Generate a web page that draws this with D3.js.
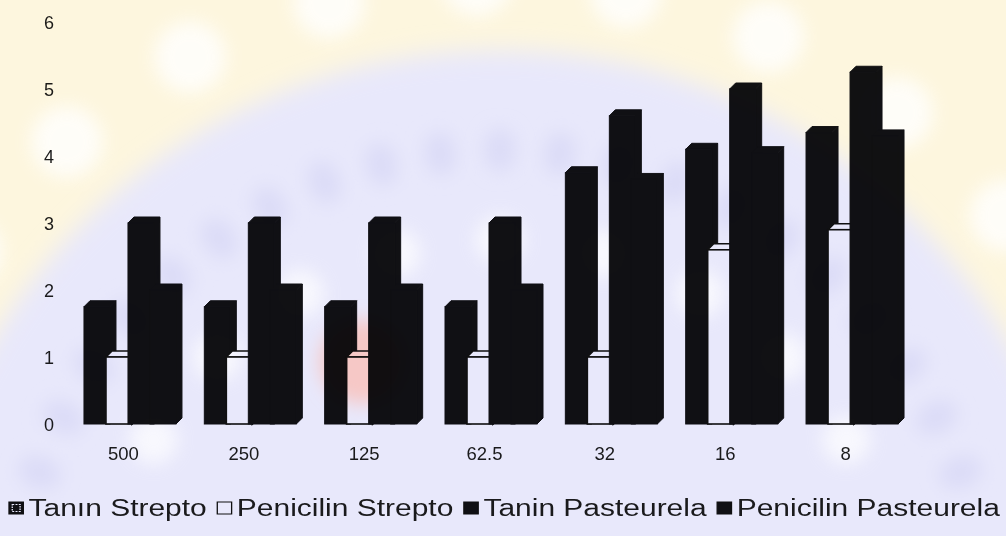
<!DOCTYPE html>
<html>
<head>
<meta charset="utf-8">
<script src="https://cdn.jsdelivr.net/npm/d3@7"></script>
<style>
  html, body { margin: 0; padding: 0; background: #ffffff; }
  svg { display: block; }
  text { font-family: "Liberation Sans", Arial, sans-serif; fill: #1c1c1c; }
</style>
</head>
<body>
<svg id="chart" width="1006" height="536"></svg>
<script>
// MIC dilutions (x categories) and the four measured series
const categories = ["500", "250", "125", "62.5", "32", "16", "8"];
const seriesNames = ["Tanın Strepto", "Penicilin Strepto", "Tanin Pasteurela", "Penicilin Pasteurela"];
const taninStrepto = [1.75, 1.75, 1.75, 1.75, 3.75, 4.1, 4.35];
const penicilinStrepto = [1, 1, 1, 1, 1, 2.6, 2.9];
const taninPasteurela = [3, 3, 3, 3, 4.6, 5.0, 5.25];
const penicilinPasteurela = [2, 2, 2, 2, 3.65, 4.05, 4.3];
const yTicks = [0, 1, 2, 3, 4, 5, 6];

const seriesValues = [taninStrepto, penicilinStrepto, taninPasteurela, penicilinPasteurela];
const seriesFill = ["#111114", "#ffffff", "#111114", "#111114"];
const seriesEdge = ["#111114", "#111111", "#111114", "#111114"];

const W = 1006, H = 536;
const svg = d3.select("#chart");

svg.append("rect").attr("width", W).attr("height", H).attr("fill", "#ffffff");

// scales
const x = d3.scaleBand().domain(categories).range([63.3, 905.7]);
const xs = d3.scaleBand().domain(seriesNames).range([0, 88]);
const y = d3.scaleLinear().domain([0, 6]).range([424, 22]);

const faceW = 26;   // front face width of a bar
const depth = 6;    // 3-D offset of top / side faces
const groupShift = x.bandwidth() / 2 - 39.5;

// y axis labels (no line, no ticks)
const yAxis = svg.append("g")
  .attr("transform", "translate(54,1)")
  .call(d3.axisLeft(y).tickValues(yTicks).tickFormat(d3.format("d")).tickSize(0).tickPadding(0));
yAxis.select(".domain").remove();
yAxis.selectAll("text").attr("font-size", 18).attr("font-family", null).attr("fill", "#222");

// x axis labels
const xAxis = svg.append("g")
  .attr("transform", "translate(0,441)")
  .call(d3.axisBottom(x).tickSize(0).tickPadding(6));
xAxis.select(".domain").remove();
xAxis.selectAll("text").attr("font-size", 18.5).attr("font-family", null).attr("fill", "#222");

// bars: one group per category, series drawn in order so later ones overlap earlier ones
const groups = svg.append("g").selectAll("g.cat")
  .data(categories)
  .join("g")
  .attr("class", "cat")
  .attr("transform", c => `translate(${x(c) + groupShift},0)`);

groups.each(function (c, ci) {
  const g = d3.select(this);
  seriesNames.forEach((s, si) => {
    const v = seriesValues[si][ci];
    const x0 = xs(s);
    const yf = y(v);
    const yb = y(0);
    const fill = seriesFill[si];
    const edge = seriesEdge[si];
    const sw = si === 1 ? 1.6 : 1;
    const bar = g.append("g").attr("class", "bar");
    // side face
    bar.append("path")
      .attr("d", `M${x0 + faceW},${yf} L${x0 + faceW + depth},${yf - depth} L${x0 + faceW + depth},${yb - depth} L${x0 + faceW},${yb} Z`)
      .attr("fill", fill).attr("stroke", edge).attr("stroke-width", sw);
    // top face
    bar.append("path")
      .attr("d", `M${x0},${yf} L${x0 + depth},${yf - depth} L${x0 + faceW + depth},${yf - depth} L${x0 + faceW},${yf} Z`)
      .attr("fill", fill).attr("stroke", edge).attr("stroke-width", sw);
    // front face
    bar.append("rect")
      .attr("x", x0).attr("y", yf)
      .attr("width", faceW).attr("height", yb - yf)
      .attr("fill", fill).attr("stroke", edge).attr("stroke-width", sw);
  });
});

// legend in a single row
const legend = svg.append("g");
let lx = 0;
seriesNames.forEach((name, i) => {
  const item = legend.append("g").attr("transform", `translate(${lx},0)`);
  item.append("rect")
    .attr("x", 0).attr("y", -14).attr("width", 11).attr("height", 12)
    .attr("fill", seriesFill[i]).attr("stroke", "#111").attr("stroke-width", 1);
  if (i === 0) {
    item.append("rect")
      .attr("x", 2.5).attr("y", -11.5).attr("width", 6).attr("height", 7)
      .attr("fill", "none").attr("stroke", "#ffffff").attr("stroke-width", 1)
      .attr("stroke-dasharray", "1.5,1");
  }
  const t = item.append("text")
    .attr("x", 15).attr("y", 0)
    .attr("font-size", 23)
    .text(name);
  lx += 15 + t.node().getComputedTextLength() + 8;
});
const legendWidth = lx - 8;
legend.attr("transform", `translate(9,516) scale(${991 / legendWidth},1)`);

// faint seal watermark laid over the whole chart
const defs = svg.append("defs");
defs.append("filter").attr("id", "soft").attr("x", "-20%").attr("y", "-20%").attr("width", "140%").attr("height", "140%")
  .append("feGaussianBlur").attr("stdDeviation", 12);
defs.append("filter").attr("id", "soft2").attr("x", "-60%").attr("y", "-60%").attr("width", "220%").attr("height", "220%")
  .append("feGaussianBlur").attr("stdDeviation", 9);

const wm = svg.append("g").style("mix-blend-mode", "multiply").attr("pointer-events", "none");
const sealX = 500, sealY = 640;
wm.append("rect").attr("width", W).attr("height", H).attr("fill", "#fdf6de");
wm.append("circle").attr("cx", sealX).attr("cy", sealY).attr("r", 590)
  .attr("fill", "#e8e8fb").attr("filter", "url(#soft)");
// outer ring of light discs
d3.range(-80, 81, 13).forEach(a => {
  const r = a * Math.PI / 180;
  wm.append("circle")
    .attr("cx", sealX + 660 * Math.sin(r)).attr("cy", sealY - 660 * Math.cos(r))
    .attr("r", 36).attr("fill", "#ffffff").attr("opacity", 0.8).attr("filter", "url(#soft2)");
});
// lettering ring of the seal
d3.range(-70, 71, 7).forEach(a => {
  const r = a * Math.PI / 180;
  const cx = sealX + 490 * Math.sin(r), cy = sealY - 490 * Math.cos(r);
  wm.append("ellipse")
    .attr("cx", cx).attr("cy", cy)
    .attr("rx", 16).attr("ry", 22)
    .attr("transform", `rotate(${a},${cx},${cy})`)
    .attr("fill", "#dcdcf7").attr("filter", "url(#soft2)");
});
// lighter patches inside the seal
d3.range(-60, 61, 15).forEach(a => {
  const r = a * Math.PI / 180;
  wm.append("circle")
    .attr("cx", sealX + 400 * Math.sin(r)).attr("cy", sealY - 400 * Math.cos(r))
    .attr("r", 24).attr("fill", "#ffffff").attr("opacity", 0.7).attr("filter", "url(#soft2)");
});
wm.append("circle").attr("cx", 362).attr("cy", 362).attr("r", 42)
  .attr("fill", "#f6c8c6").attr("filter", "url(#soft2)");
</script>
</body>
</html>
